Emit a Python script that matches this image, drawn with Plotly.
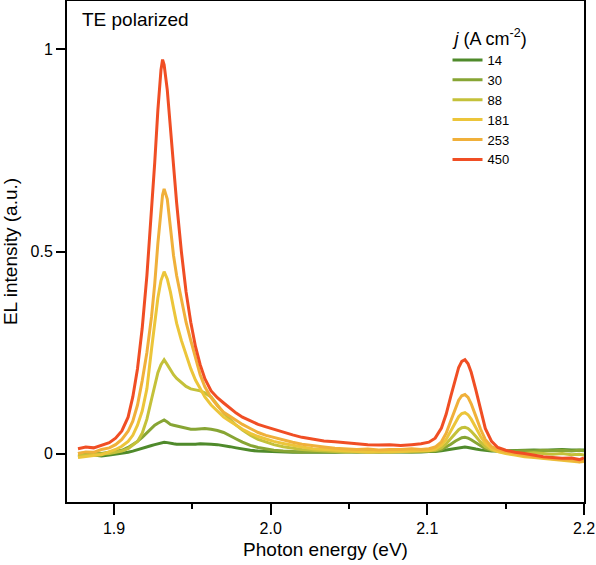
import plotly.graph_objects as go

# Photon energy grid (eV)
energy = [
    1.877, 1.882, 1.887, 1.892, 1.897, 1.901, 1.905, 1.909, 1.912, 1.915,
    1.918, 1.921, 1.924, 1.926, 1.928, 1.930, 1.931, 1.932, 1.934, 1.936,
    1.938, 1.940, 1.943, 1.946, 1.949, 1.952, 1.955, 1.958, 1.962, 1.966,
    1.970, 1.974, 1.978, 1.982, 1.987, 1.992, 1.997, 2.002, 2.008, 2.014,
    2.020, 2.027, 2.034, 2.041, 2.048, 2.055, 2.062, 2.069, 2.076, 2.083,
    2.090, 2.096, 2.101, 2.105, 2.109, 2.112, 2.115, 2.118, 2.120, 2.122,
    2.124, 2.126, 2.128, 2.131, 2.134, 2.137, 2.141, 2.145, 2.150, 2.156,
    2.162, 2.168, 2.174, 2.180, 2.186, 2.192, 2.197, 2.200,
]

j14 = [
    -0.003, -0.005, -0.004, -0.006, -0.004, -0.002, 0.000, 0.003, 0.006, 0.010,
    0.013, 0.017, 0.020, 0.022, 0.024, 0.026, 0.027, 0.028, 0.027, 0.025,
    0.024, 0.023, 0.023, 0.022, 0.022, 0.023, 0.024, 0.024, 0.023, 0.022,
    0.020, 0.017, 0.014, 0.011, 0.008, 0.006, 0.005, 0.004, 0.004, 0.003,
    0.004, 0.003, 0.004, 0.003, 0.004, 0.004, 0.003, 0.004, 0.004, 0.003,
    0.004, 0.004, 0.005, 0.005, 0.007, 0.009, 0.011, 0.013, 0.015, 0.016,
    0.016, 0.015, 0.014, 0.011, 0.009, 0.007, 0.006, 0.006, 0.007, 0.008,
    0.008, 0.009, 0.008, 0.009, 0.010, 0.009, 0.010, 0.009,
]

j30 = [
    0.000, 0.001, 0.002, 0.000, 0.003, 0.005, 0.008, 0.015, 0.022, 0.030,
    0.040, 0.052, 0.062, 0.070, 0.075, 0.080, 0.082, 0.083, 0.078, 0.072,
    0.070, 0.068, 0.066, 0.063, 0.060, 0.060, 0.061, 0.062, 0.060, 0.057,
    0.052, 0.045, 0.036, 0.028, 0.020, 0.015, 0.011, 0.008, 0.006, 0.005,
    0.004, 0.005, 0.004, 0.004, 0.005, 0.004, 0.005, 0.004, 0.005, 0.004,
    0.004, 0.005, 0.005, 0.006, 0.010, 0.016, 0.023, 0.031, 0.036, 0.039,
    0.040, 0.038, 0.034, 0.027, 0.019, 0.012, 0.008, 0.006, 0.005, 0.006,
    0.007, 0.006, 0.008, 0.007, 0.008, 0.006, 0.008, 0.007,
]

j88 = [
    -0.005, -0.004, -0.003, -0.002, 0.000, 0.003, 0.006, 0.012, 0.020, 0.030,
    0.050, 0.085, 0.135, 0.170, 0.200, 0.220, 0.228, 0.232, 0.220, 0.206,
    0.195, 0.186, 0.176, 0.166, 0.160, 0.158, 0.155, 0.150, 0.140, 0.120,
    0.100, 0.085, 0.070, 0.058, 0.045, 0.035, 0.028, 0.022, 0.017, 0.013,
    0.010, 0.008, 0.006, 0.005, 0.004, 0.005, 0.004, 0.005, 0.004, 0.005,
    0.005, 0.006, 0.006, 0.008, 0.014, 0.024, 0.037, 0.051, 0.059, 0.064,
    0.065, 0.062, 0.055, 0.042, 0.028, 0.017, 0.009, 0.005, 0.002, 0.000,
    0.000, 0.002, 0.000, -0.002, 0.000, -0.003, -0.002, -0.004,
]

j181 = [
    -0.010, -0.007, -0.005, -0.003, 0.004, 0.010, 0.018, 0.030, 0.045, 0.070,
    0.105, 0.160, 0.260, 0.330, 0.385, 0.428, 0.442, 0.450, 0.432, 0.400,
    0.360, 0.322, 0.280, 0.242, 0.210, 0.182, 0.160, 0.140, 0.120, 0.105,
    0.090, 0.080, 0.070, 0.060, 0.050, 0.042, 0.036, 0.030, 0.025, 0.020,
    0.016, 0.012, 0.010, 0.008, 0.006, 0.005, 0.004, 0.004, 0.005, 0.005,
    0.006, 0.007, 0.007, 0.011, 0.021, 0.035, 0.056, 0.078, 0.091, 0.099,
    0.101, 0.096, 0.085, 0.064, 0.042, 0.025, 0.012, 0.005, 0.000, -0.004,
    -0.008, -0.010, -0.012, -0.015, -0.016, -0.018, -0.021, -0.020,
]

j253 = [
    0.000, 0.004, 0.003, 0.010, 0.014, 0.022, 0.035, 0.055, 0.080, 0.120,
    0.180, 0.250, 0.340, 0.420, 0.520, 0.610, 0.640, 0.655, 0.630, 0.560,
    0.490, 0.440, 0.385, 0.325, 0.280, 0.235, 0.195, 0.165, 0.138, 0.118,
    0.102, 0.092, 0.082, 0.072, 0.062, 0.052, 0.045, 0.040, 0.033, 0.028,
    0.023, 0.019, 0.016, 0.013, 0.012, 0.010, 0.011, 0.009, 0.010, 0.010,
    0.012, 0.010, 0.012, 0.016, 0.029, 0.050, 0.081, 0.113, 0.132, 0.143,
    0.146, 0.139, 0.123, 0.092, 0.060, 0.035, 0.017, 0.010, 0.004, 0.000,
    -0.005, -0.008, -0.011, -0.013, -0.015, -0.016, -0.020, -0.018,
]

j450 = [
    0.012, 0.016, 0.014, 0.021, 0.027, 0.038, 0.056, 0.090, 0.140, 0.210,
    0.310, 0.440, 0.600, 0.720, 0.850, 0.950, 0.975, 0.962, 0.900, 0.800,
    0.700, 0.620, 0.500, 0.400, 0.325, 0.265, 0.220, 0.185, 0.155, 0.138,
    0.125, 0.112, 0.100, 0.090, 0.080, 0.072, 0.066, 0.060, 0.052, 0.046,
    0.040, 0.036, 0.031, 0.029, 0.026, 0.024, 0.022, 0.021, 0.022, 0.020,
    0.022, 0.024, 0.028, 0.038, 0.063, 0.097, 0.142, 0.188, 0.213, 0.228,
    0.232, 0.222, 0.201, 0.157, 0.108, 0.062, 0.030, 0.015, 0.008, 0.003,
    0.000, -0.004, -0.008, -0.010, -0.012, -0.011, -0.015, -0.011,
]

series_labels = ["14", "30", "88", "181", "253", "450"]
series_values = [j14, j30, j88, j181, j253, j450]
series_colors = ["#4f8a2b", "#87a534", "#c4c13a", "#ecc53a", "#f0b03a", "#f04e24"]

x_ticks = [1.9, 2.0, 2.1, 2.2]
x_tick_labels = ["1.9", "2.0", "2.1", "2.2"]
y_ticks = [0, 0.5, 1]
y_tick_labels = ["0", "0.5", "1"]

FONT = "Arial, Liberation Sans, sans-serif"

fig = go.Figure()
for name, vals, col in zip(series_labels, series_values, series_colors):
    fig.add_trace(go.Scatter(
        x=energy, y=vals, mode="lines", name=name,
        line=dict(color=col, width=3),
    ))

fig.update_layout(
    width=596, height=565,
    margin=dict(l=67, r=12, t=1, b=63, autoexpand=False),
    paper_bgcolor="white", plot_bgcolor="white",
    font=dict(family=FONT, size=16, color="black"),
    showlegend=True,
    legend=dict(
        x=0.736, y=0.959, xanchor="left", yanchor="top",
        bgcolor="rgba(0,0,0,0)", borderwidth=0,
        font=dict(size=13, family=FONT, color="black"),
        title=dict(text="&nbsp;<i>j</i> (A cm<sup>-2</sup>)", font=dict(size=18, family=FONT)),
    ),
    annotations=[dict(
        text="TE polarized", xref="paper", yref="paper",
        x=0.026, y=0.963, xanchor="left", yanchor="middle",
        showarrow=False, font=dict(size=19, family=FONT, color="black"),
    )],
)

fig.update_xaxes(
    range=[1.87, 2.2], tickvals=x_ticks, ticktext=x_tick_labels,
    ticks="outside", ticklen=11, tickwidth=2, tickcolor="black",
    minor=dict(tickvals=[1.95, 2.05, 2.15], ticks="outside", ticklen=5, tickwidth=2, tickcolor="black"),
    showline=True, linewidth=2, linecolor="black", mirror=True,
    showgrid=False, zeroline=False, automargin=False,
    tickfont=dict(size=16),
    title=dict(text="Photon energy (eV)", font=dict(size=19), standoff=6),
)
fig.update_yaxes(
    range=[-0.12, 1.12], tickvals=y_ticks, ticktext=y_tick_labels,
    ticks="outside", ticklen=9, tickwidth=2, tickcolor="black",
    showline=True, linewidth=2, linecolor="black", mirror=True,
    showgrid=False, zeroline=False, automargin=False,
    tickfont=dict(size=16),
    title=dict(text="EL intensity (a.u.)", font=dict(size=19), standoff=10),
)

fig.write_html(
    "out.html",
    config={"displayModeBar": False},
    post_script="document.body.style.margin='0';document.body.style.padding='0';",
)
